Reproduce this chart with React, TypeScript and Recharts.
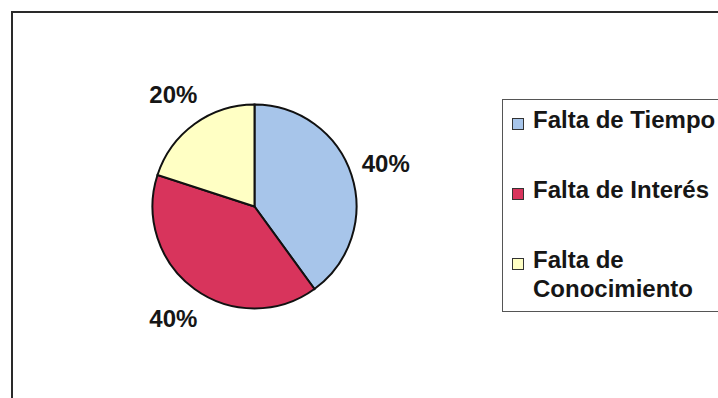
import React from 'react';
import { PieChart, Pie, Cell, Legend } from 'recharts';

const categories = ['Falta de Tiempo', 'Falta de Interés', 'Falta de Conocimiento'];
const shares = [40, 40, 20];
const sliceColors = ['#a7c5ea', '#d8345c', '#ffffc4'];
const legendLines = [['Falta de Tiempo'], ['Falta de Interés'], ['Falta de', 'Conocimiento']];

const data = categories.map((name, i) => ({ name, value: shares[i] }));

const FONT = '"Liberation Sans", Arial, sans-serif';
const RAD = Math.PI / 180;

// percent labels sit just outside the rim, centred on the slice's mid angle
const renderLabel = (props: any) => {
  const { cx, cy, outerRadius, midAngle, percent } = props;
  const r = outerRadius + 36;
  const x = cx + r * Math.cos(-midAngle * RAD);
  const y = cy + r * Math.sin(-midAngle * RAD);
  return (
    <text x={x} y={y} textAnchor="middle" dominantBaseline="central" fill="#161616"
      fontFamily={FONT} fontSize={24} fontWeight="bold">
      {`${Math.round(percent * 100)}%`}
    </text>
  );
};

const LegendBox = () => (
  <div style={{
    width: 240, height: 213, border: '1.5px solid #555', background: '#fff',
    fontFamily: FONT, fontSize: 24, fontWeight: 'bold', color: '#161616',
    boxSizing: 'border-box', paddingTop: 5,
  }}>
    {legendLines.map((lines, i) => (
      <div key={categories[i]} style={{ position: 'relative', marginTop: i === 0 ? 0 : 41, paddingLeft: 30 }}>
        <span style={{
          position: 'absolute', left: 9, top: 13, width: 10, height: 10,
          background: sliceColors[i], border: '1px solid #333',
        }} />
        {lines.map((t) => (
          <div key={t} style={{ lineHeight: '29px', whiteSpace: 'nowrap' }}>{t}</div>
        ))}
      </div>
    ))}
  </div>
);

export default function App() {
  return (
    <div style={{ position: 'fixed', left: 0, top: 0, width: 718, height: 398, background: '#fff', overflow: 'hidden' }}>
      <div style={{
        position: 'absolute', left: 11, top: 11, width: 740, height: 420,
        border: '2px solid #2a2a2a',
      }} />
      <div style={{ position: 'absolute', left: 0, top: 0 }}>
        <PieChart width={718} height={398} margin={{ top: 0, right: 0, bottom: 0, left: 0 }}>
          <Pie
            data={data}
            dataKey="value"
            nameKey="name"
            cx={254.5}
            cy={206.5}
            outerRadius={102}
            startAngle={90}
            endAngle={-270}
            stroke="#111"
            strokeWidth={2}
            label={renderLabel}
            labelLine={false}
            isAnimationActive={false}
          >
            {data.map((d, i) => (
              <Cell key={d.name} fill={sliceColors[i]} />
            ))}
          </Pie>
          <Legend
            content={<LegendBox />}
            layout="vertical"
            wrapperStyle={{ position: 'absolute', left: 502, top: 99, width: 240 }}
          />
        </PieChart>
      </div>
    </div>
  );
}
